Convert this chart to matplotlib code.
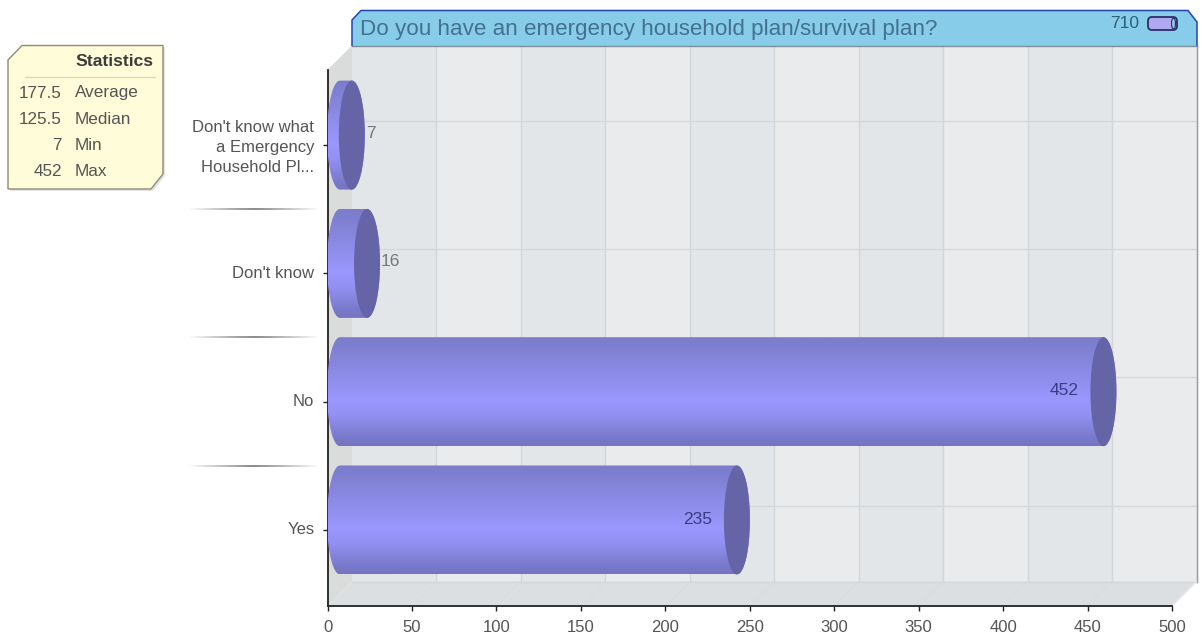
import matplotlib
matplotlib.use("Agg")
import matplotlib.pyplot as plt
import numpy as np
from matplotlib.patches import Ellipse, FancyBboxPatch, PathPatch, Polygon
from matplotlib.path import Path
from matplotlib.transforms import ScaledTranslation

plt.rcParams["font.family"] = ["Liberation Sans", "DejaVu Sans"]

categories = ["Yes", "No", "Don't know", "Don't know what\na Emergency\nHousehold Pl..."]
responses = [235, 452, 16, 7]
x_ticks = [0, 50, 100, 150, 200, 250, 300, 350, 400, 450, 500]
stat_values = ["177.5", "125.5", "7", "452"]
stat_names = ["Average", "Median", "Min", "Max"]
question = "Do you have an emergency household plan/survival plan?"
total = "710"

# plot area in pixels
LEFT, RIGHT, BOTTOM, TOP = 327.5, 1172.0, 606.0, 70.0
DEPTH = 24.5
TICK0, BAND = 530.0, 128.3
PX_X = 500 / (RIGHT - LEFT)
PX_Y = 1 / BAND
TEXT = "#555555"


def x_px(v):
    return LEFT + v / PX_X


def y_px(i):
    return TICK0 - i * BAND


def draw_wall(bg):
    # back wall stripes, side wall and floor of the box
    for k in range(len(x_ticks) - 1):
        x0 = x_px(x_ticks[k]) + DEPTH
        x1 = x_px(x_ticks[k + 1]) + DEPTH
        col = "#e3e6e8" if k % 2 == 0 else "#e9ebed"
        bg.fill([x0, x1, x1, x0], [TOP - DEPTH, TOP - DEPTH, BOTTOM - DEPTH, BOTTOM - DEPTH],
                color=col, lw=0, zorder=1)
    bg.add_patch(Polygon([(LEFT, TOP), (LEFT + DEPTH, TOP - DEPTH), (LEFT + DEPTH, BOTTOM - DEPTH), (LEFT, BOTTOM)],
                         fc="#dadcdc", ec="none", zorder=1))
    bg.add_patch(Polygon([(LEFT, BOTTOM), (LEFT + DEPTH, BOTTOM - DEPTH), (RIGHT + DEPTH, BOTTOM - DEPTH), (RIGHT, BOTTOM)],
                         fc="#dcdfe2", ec="none", zorder=1))
    for v in x_ticks[1:]:
        x = x_px(v)
        bg.plot([x + DEPTH] * 2, [TOP - DEPTH, BOTTOM - DEPTH], color="#d3d6d8", lw=1, zorder=2)
        bg.plot([x, x + DEPTH], [BOTTOM, BOTTOM - DEPTH], color="#d9dcdf", lw=0.6, zorder=2)
    for i in range(len(categories)):
        y = y_px(i)
        bg.plot([LEFT, LEFT + DEPTH], [y, y - DEPTH], color="#d3d6d8", lw=0.8, zorder=2)
        bg.plot([LEFT + DEPTH, RIGHT + DEPTH], [y - DEPTH, y - DEPTH], color="#d5d8da", lw=1, zorder=2)
    bg.plot([LEFT + DEPTH, RIGHT + DEPTH], [BOTTOM - DEPTH] * 2, color="#d5d8da", lw=1, zorder=2)
    bg.plot([RIGHT + DEPTH] * 2, [TOP - DEPTH, BOTTOM - DEPTH], color="#9a9ea1", lw=1, zorder=2)
    bg.plot([RIGHT, RIGHT + DEPTH], [BOTTOM, BOTTOM - DEPTH], color="#e6e8ea", lw=1, zorder=2)

    # fading rules between the category labels
    fade = np.abs(np.linspace(-1, 1, 200)) ** 1.1
    shade = np.ones((1, 200, 4))
    shade[..., :3] = 0.4
    shade[..., 3] = (1 - fade) * 0.75
    for i in range(len(categories) - 1):
        y = y_px(i) - 64
        bg.imshow(shade, extent=(188, 320, y + 0.6, y - 0.6), aspect="auto", zorder=2)


def draw_title(bg):
    bar = [(352, 46), (352, 20), (361, 10.5), (1188, 10.5), (1197, 22), (1197, 46)]
    bg.add_patch(Polygon(bar, closed=False, fc="#87cce9", ec="#2145b0", lw=1.1, zorder=4))
    bg.plot([352, 1197], [46, 46], color="#7d8f9a", lw=1, zorder=4)
    bg.text(360, 29.5, question, fontsize=16.1, color="#44718f", va="center", ha="left", zorder=5)
    bg.text(1139, 23, total, fontsize=12.5, color="#2f5f78", va="center", ha="right", zorder=5)
    pill = FancyBboxPatch((1151, 20), 23, 7, boxstyle="round,pad=3,rounding_size=4",
                          fc="#b0a8f2", ec="#2a2f66", lw=1.3, zorder=5)
    bg.add_patch(pill)
    bg.add_patch(Ellipse((1173.5, 23.5), 4, 11, fc="#87cce9", ec="#2a2f66", lw=0.8, zorder=6))


def draw_stats(bg):
    note = [(8, 60), (22, 45.5), (163, 45.5), (163, 174), (151, 189), (8, 189)]
    shadow = [(x + 2, y + 2) for x, y in note]
    bg.add_patch(Polygon(shadow, fc="#d2d2d2", ec="none", alpha=0.6, zorder=3))
    bg.add_patch(Polygon(note, fc="#fffcd9", ec="#8e8c74", lw=1, zorder=4))
    bg.plot([25, 155], [77, 77], color="#dcdabb", lw=1, zorder=5)
    bg.text(153.5, 61, "Statistics", fontsize=12.6, fontweight="bold", color="#3c3c3c",
            ha="right", va="center", zorder=5)
    for k, (val, name) in enumerate(zip(stat_values, stat_names)):
        y = 93 + 26 * k
        bg.text(62, y, val, fontsize=12.3, color=TEXT, ha="right", va="center", zorder=5)
        bg.text(75, y, name, fontsize=12.3, color=TEXT, ha="left", va="center", zorder=5)


def draw_cylinder(ax, i, value, gradient):
    # the bar sits inside the box, half a depth away from the axis
    cx = 12.5 * PX_X
    cy = i + 10 * PX_Y
    rx = 13 * PX_X
    ry = 54.5 * PX_Y
    t = np.linspace(np.pi / 2, 3 * np.pi / 2, 40)
    px = np.concatenate([cx + rx * np.cos(t), value + cx - rx * np.cos(t)])
    py = np.concatenate([cy + ry * np.sin(t), cy - ry * np.sin(t)])
    outline = Path(np.column_stack([px, py]), closed=False)
    im = ax.imshow(gradient, extent=(0, value + cx + rx, cy - ry, cy + ry), aspect="auto",
                   origin="upper", zorder=3)
    body = PathPatch(outline, fc="none", ec="none", transform=ax.transData)
    ax.add_patch(body)
    im.set_clip_path(body)
    ax.add_patch(Ellipse((value + cx, cy), 2 * rx, 2 * ry, fc="#6464a6", ec="none", zorder=4))


def main():
    fig = plt.figure(figsize=(12.02, 6.35), dpi=100, facecolor="white")
    bg = fig.add_axes([0, 0, 1, 1], zorder=0)
    bg.axis("off")
    draw_wall(bg)
    draw_title(bg)
    draw_stats(bg)
    bg.set_xlim(0, 1202)
    bg.set_ylim(635, 0)

    ax = fig.add_axes([LEFT / 1202, (635 - BOTTOM) / 635, (RIGHT - LEFT) / 1202, (BOTTOM - TOP) / 635], zorder=1)
    ax.patch.set_alpha(0)

    stops = np.array([0, 0.15, 0.58, 0.72, 0.92, 1.0])
    colors = np.array([[0x7c, 0x7c, 0xcc], [0x82, 0x82, 0xd6], [0x9a, 0x98, 0xff],
                       [0x92, 0x90, 0xf2], [0x7a, 0x7a, 0xcc], [0x74, 0x74, 0xc2]]) / 255
    rows = np.linspace(0, 1, 108)
    gradient = np.stack([np.interp(rows, stops, colors[:, c]) for c in range(3)], axis=1)[:, None, :]

    for i, value in enumerate(responses):
        draw_cylinder(ax, i, value, gradient)
        if value > 100:
            ax.annotate(str(value), (value, i), xytext=(-12 * 0.72, 0.72 * 11), textcoords="offset points",
                        ha="right", va="center", fontsize=12.5, color="#3c3c84", zorder=6)
        else:
            ax.annotate(str(value), (value, i), xytext=(26.5 * 0.72, 0.72 * 12), textcoords="offset points",
                        ha="left", va="center", fontsize=12.5, color="#777777", zorder=6, annotation_clip=False)

    ax.set_xlim(0, 500)
    ax.set_ylim(-(BOTTOM - TICK0) / BAND, (TICK0 - TOP) / BAND)
    ax.set_xticks(x_ticks)
    ax.set_yticks(range(len(categories)))
    ax.set_yticklabels(categories, linespacing=1.42)
    ax.tick_params(axis="both", length=3.5, width=1, colors="#222222", labelsize=12,
                   labelcolor=TEXT, pad=6.5)
    ax.tick_params(axis="y", pad=6)
    up = ScaledTranslation(0, 1.5 / 100, fig.dpi_scale_trans)
    for lab in ax.get_yticklabels():
        lab.set_multialignment("right")
        lab.set_transform(lab.get_transform() + up)
    ax.spines["top"].set_visible(False)
    ax.spines["right"].set_visible(False)
    ax.spines["left"].set_linewidth(1.3)
    ax.spines["bottom"].set_linewidth(1.3)
    ax.spines["left"].set_color("#222222")
    ax.spines["bottom"].set_color("#222222")

    fig.savefig("out.png", dpi=100)


if __name__ == "__main__":
    main()
